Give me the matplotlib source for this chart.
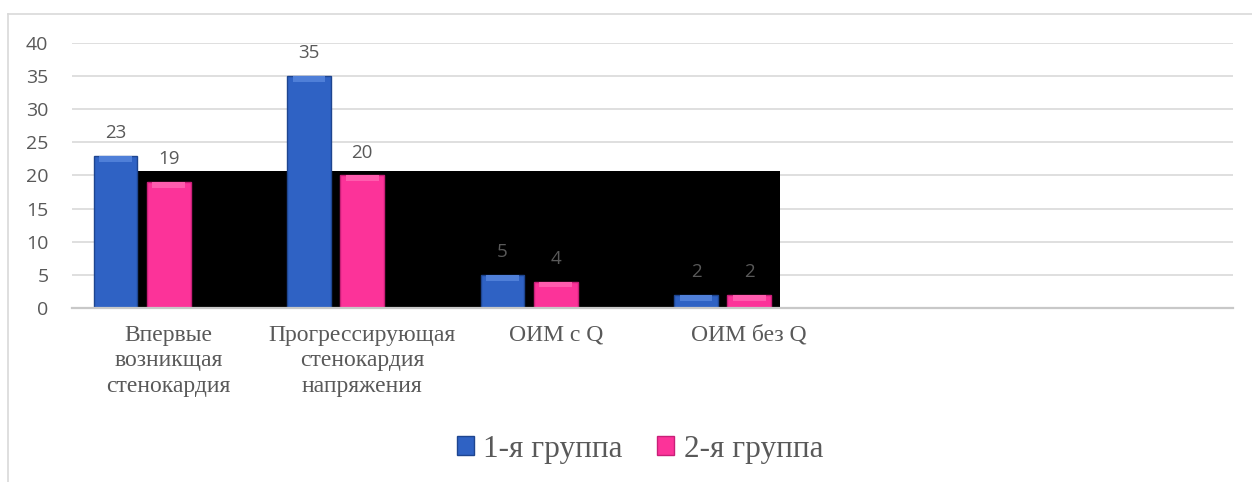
import numpy as np
import matplotlib
matplotlib.use('Agg')
import matplotlib.pyplot as plt
from matplotlib.patches import Rectangle, Patch
from matplotlib.lines import Line2D

# Categories (two empty slots at the end keep the axis wide)
CATEGORIES = [
    'Впервые\nвозникщая\nстенокардия',
    'Прогрессирующая\nстенокардия\nнапряжения',
    'ОИМ с Q',
    'ОИМ без Q',
    '',
    '',
]
GROUP1 = [23, 35, 5, 2]
GROUP2 = [19, 20, 4, 2]
SERIES_NAMES = ['1-я группа', '2-я группа']
Y_TICKS = [0, 5, 10, 15, 20, 25, 30, 35, 40]

BLUE = '#2F62C4'
BLUE_EDGE = '#1E4590'
BLUE_TOP = '#4F7FD8'
PINK = '#FC3399'
PINK_EDGE = '#C81F78'
PINK_TOP = '#FF5CAE'
TEXT_GRAY = '#595959'
GRID_GRAY = '#D9D9D9'

SERIF = ['Liberation Serif', 'DejaVu Serif']
SANS = ['Open Sans', 'DejaVu Sans']


def draw_bars(ax, x, values, color, edge, top, label):
    bars = ax.bar(x, values, width=0.225, color=color, edgecolor=edge,
                  linewidth=1.0, zorder=3, label=label)
    # lighter bevel along the top of every bar
    bevel = 0.9
    ax.bar(x, [min(bevel, v * 0.5) for v in values],
           bottom=[v - min(bevel, v * 0.5) for v in values],
           width=0.17, color=top, linewidth=0, zorder=4)
    for xi, v in zip(x, values):
        ax.annotate(str(v), xy=(xi, v), xytext=(0, 10),
                    textcoords='offset points', ha='center', va='bottom',
                    fontsize=13.5, color=TEXT_GRAY, family=SANS, zorder=5)
    return bars


def main():
    fig = plt.figure(figsize=(12.52, 4.82), dpi=100)
    ax = fig.add_axes([72 / 1252, 174 / 482, 1161 / 1252, 265 / 482])

    x = np.arange(len(CATEGORIES))
    n = len(GROUP1)

    # black panel behind the data bars
    ax.add_patch(Rectangle((-0.164, -0.35), 3.323, 21.05,
                           facecolor='black', edgecolor='none', zorder=2))

    draw_bars(ax, x[:n] - 0.275, GROUP1, BLUE, BLUE_EDGE, BLUE_TOP, SERIES_NAMES[0])
    draw_bars(ax, x[:n], GROUP2, PINK, PINK_EDGE, PINK_TOP, SERIES_NAMES[1])

    ax.set_xlim(-0.5, len(CATEGORIES) - 0.5)
    ax.set_ylim(0, 40)
    ax.set_yticks(Y_TICKS)
    ax.set_xticks(x)
    ax.set_xticklabels(CATEGORIES, family=SERIF, fontsize=17,
                       color=TEXT_GRAY, linespacing=1.3)
    for lab in ax.get_yticklabels():
        lab.set_family(SANS)
        lab.set_fontsize(14)
        lab.set_color(TEXT_GRAY)

    ax.tick_params(axis='y', length=0, pad=17)
    ax.tick_params(axis='x', length=0, pad=12)
    ax.yaxis.grid(True, color=GRID_GRAY, linewidth=1.2, zorder=1)
    ax.set_axisbelow(True)
    for s in ax.spines.values():
        s.set_visible(False)
    ax.axhline(0, color='#C8C8C8', linewidth=1.6, zorder=3.5, clip_on=False)

    # legend
    handles = [
        Patch(facecolor=BLUE, edgecolor=BLUE_EDGE),
        Patch(facecolor=PINK, edgecolor=PINK_EDGE),
    ]
    leg = fig.legend(handles, SERIES_NAMES, loc='center',
                     bbox_to_anchor=(640 / 1252, 1 - 449 / 482), ncol=2,
                     frameon=False, prop={'family': SERIF, 'size': 22.5},
                     handlelength=0.55, handleheight=0.55, handletextpad=0.3,
                     columnspacing=1.1, borderpad=0)
    for t in leg.get_texts():
        t.set_color(TEXT_GRAY)

    # outer chart frame
    fig.add_artist(Line2D([8 / 1252, 1.0], [1 - 14 / 482, 1 - 14 / 482],
                          color=GRID_GRAY, linewidth=1.2))
    fig.add_artist(Line2D([8 / 1252, 8 / 1252], [0.0, 1 - 14 / 482],
                          color=GRID_GRAY, linewidth=1.2))

    fig.savefig('out.png', dpi=100)


if __name__ == '__main__':
    main()
